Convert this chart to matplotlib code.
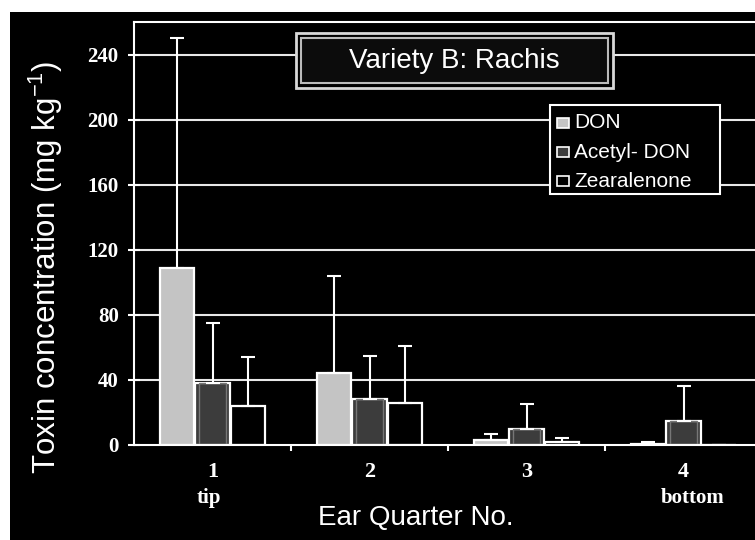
import matplotlib
matplotlib.use("Agg")
import matplotlib.pyplot as plt
import numpy as np
from matplotlib.patches import Rectangle

quarters = ["1", "2", "3", "4"]
quarter_notes = ["tip", "", "", "bottom"]
series = ["DON", "Acetyl- DON", "Zearalenone"]
don = [109, 44, 3, 0.8]
don_err = [141, 60, 4, 0.8]
acetyl_don = [38, 28, 10, 14.5]
acetyl_don_err = [37, 27, 15, 22]
zearalenone = [24, 26, 2, 0]
zearalenone_err = [30, 35, 2, 0]
y_ticks = [0, 40, 80, 120, 160, 200, 240]

values = [don, acetyl_don, zearalenone]
errors = [don_err, acetyl_don_err, zearalenone_err]
faces = ["#c4c4c4", "#3c3c3c", "#000000"]

W, H = 755, 540


def fx(px):
    return px / W


def fy(py):
    return 1 - py / H


fig = plt.figure(figsize=(W / 100, H / 100), dpi=100, facecolor="white")
fig.patches.append(Rectangle((fx(10), 0), 1, fy(12), transform=fig.transFigure,
                             facecolor="black", edgecolor="none", zorder=-5))

ax = fig.add_axes([fx(134), 95 / H, 628 / W, 423 / H])
ax.set_facecolor("black")
ax.set_xlim(-0.5, 3.5)
ax.set_ylim(0, 260)

# horizontal grid
for v in y_ticks[1:]:
    ax.axhline(v, color="#e8e8e8", lw=1.5, zorder=1)

x = np.arange(len(quarters))
bw = 0.225
offsets = [-bw, 0, bw]
for vals, errs, fc, off in zip(values, errors, faces, offsets):
    ax.bar(x + off, vals, width=bw * 0.97, color=fc, edgecolor="white", linewidth=1.6, zorder=3)
    if fc == "#3c3c3c":
        ax.bar(x + off, vals, width=bw * 0.75, color="none", edgecolor="#777777",
               linewidth=1.0, zorder=3.5)
    ax.errorbar(x + off, vals, yerr=[np.zeros(len(errs)), errs], fmt="none",
                ecolor="white", elinewidth=1.5, capsize=5, capthick=1.5, zorder=4)

for s in ["left", "top", "bottom"]:
    ax.spines[s].set_color("white")
    ax.spines[s].set_linewidth(1.5)
ax.spines["right"].set_visible(False)
ax.spines["bottom"].set_zorder(5)

ax.set_yticks(y_ticks)
ax.set_yticklabels([str(v) for v in y_ticks], color="white", fontsize=15, fontweight="bold",
                   family="Liberation Serif")
ax.tick_params(axis="y", colors="white", length=8, width=1.5, direction="inout", pad=7)

ax.set_xticks(x)
ax.set_xticklabels([])
ax.tick_params(axis="x", length=0)
ax.set_xticks(np.arange(-0.5, 4.0, 1.0)[1:], minor=True)
ax.tick_params(axis="x", which="minor", colors="white", length=4, width=1.5, direction="out")

for xi, q, note in zip(x, quarters, quarter_notes):
    ax.text(xi, -16.5, q, ha="center", va="center", color="white", fontsize=16,
            fontweight="bold", family="Liberation Serif")
    if note:
        shift = 0.06 if note == "bottom" else -0.02
        ax.text(xi + shift, -32.5, note, ha="center", va="center", color="white",
                fontsize=15, fontweight="bold", family="Liberation Serif")

fig.text(fx(416), fy(518), "Ear Quarter No.", ha="center", va="center", color="white",
         fontsize=20, family="Liberation Sans")
fig.text(fx(46), fy(267), "Toxin concentration (mg kg$^{\\mathregular{-1}}$)", ha="center",
         va="center", rotation=90, color="white", fontsize=22.5, family="Liberation Sans")

# title box with double border
fig.patches.append(Rectangle((fx(296), fy(88)), 317 / W, 55 / H, transform=fig.transFigure,
                             facecolor="black", edgecolor="#d8d8d8", lw=2, zorder=6))
fig.patches.append(Rectangle((fx(301), fy(83)), 307 / W, 45 / H, transform=fig.transFigure,
                             facecolor="#0c0c0c", edgecolor="#bbbbbb", lw=1.5, zorder=6))
fig.text(fx(454), fy(61), "Variety B: Rachis", ha="center", va="center", color="white",
         fontsize=20, family="Liberation Sans", zorder=7)

# legend box
fig.patches.append(Rectangle((fx(550), fy(194)), 170 / W, 89 / H, transform=fig.transFigure,
                             facecolor="black", edgecolor="white", lw=1.5, zorder=6))
for i, (name, fc) in enumerate(zip(series, faces)):
    yc = 123 + 29 * i
    fig.patches.append(Rectangle((fx(557), fy(yc + 5)), 12 / W, 10 / H,
                                 transform=fig.transFigure, facecolor=fc,
                                 edgecolor="white", lw=1.2, zorder=7))
    fig.text(fx(574), fy(yc), name, ha="left", va="center", color="white", fontsize=15,
             family="Liberation Sans", zorder=7)

fig.savefig("out.png", dpi=100, facecolor="white")
